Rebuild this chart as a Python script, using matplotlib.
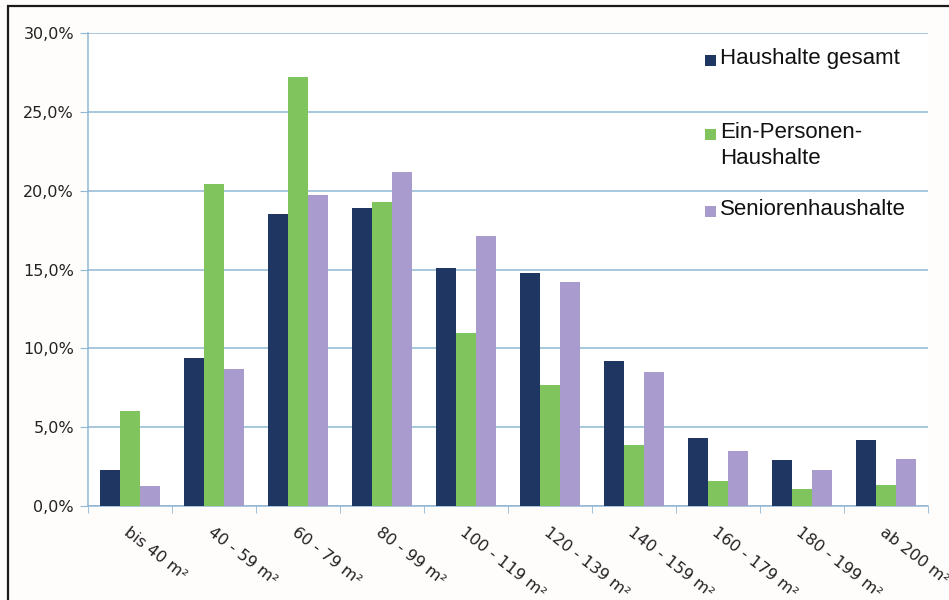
import numpy as np
import matplotlib.pyplot as plt
from matplotlib.patches import Rectangle
from matplotlib.ticker import FuncFormatter, FixedLocator

categories = ['bis 40 m²', '40 - 59 m²', '60 - 79 m²', '80 - 99 m²', '100 - 119 m²',
              '120 - 139 m²', '140 - 159 m²', '160 - 179 m²', '180 - 199 m²', 'ab 200 m²']
gesamt = [2.3, 9.4, 18.5, 18.9, 15.1, 14.8, 9.2, 4.3, 2.9, 4.2]
ein_personen = [6.0, 20.4, 27.2, 19.3, 11.0, 7.7, 3.9, 1.6, 1.1, 1.35]
senioren = [1.3, 8.7, 19.7, 21.2, 17.1, 14.2, 8.5, 3.5, 2.3, 3.0]

series = [
    ('Haushalte gesamt', gesamt, '#1f3663'),
    ('Ein-Personen-\nHaushalte', ein_personen, '#80c45e'),
    ('Seniorenhaushalte', senioren, '#a99bce'),
]

grid_col = '#8fb6d3'
W, H = 949, 600

fig = plt.figure(figsize=(W / 100, H / 100), dpi=100)
fig.patch.set_facecolor('#fffdfc')
# frame round the chart area
fig.patches.append(Rectangle((8 / W, -0.02), 1.0, 1 - 6 / H + 0.02,
                             transform=fig.transFigure, fill=False,
                             edgecolor='#1a1a1a', linewidth=1.6))

ax = fig.add_axes([88 / W, 1 - 506 / H, (928 - 88) / W, (506 - 33) / H])
ax.set_facecolor('white')

x = np.arange(len(categories))
w = 0.24
for i, (name, vals, col) in enumerate(series):
    ax.bar(x + (i - 1) * w, vals, width=w, color=col, label=name, zorder=3)

ax.set_xlim(-0.5, len(categories) - 0.5)
ax.set_ylim(0, 30)
ax.set_yticks(np.arange(0, 31, 5))
ax.yaxis.set_major_formatter(FuncFormatter(lambda v, p: f'{v:.1f}%'.replace('.', ',')))
ax.grid(axis='y', color=grid_col, linewidth=1.1, zorder=0)

for s in ['top', 'right']:
    ax.spines[s].set_visible(False)
for s in ['left', 'bottom']:
    ax.spines[s].set_color(grid_col)
    ax.spines[s].set_linewidth(1.1)

ax.tick_params(axis='y', colors=grid_col, length=6, labelcolor='#222222', labelsize=11.5, pad=4)
ax.xaxis.set_major_locator(FixedLocator(x))
ax.xaxis.set_minor_locator(FixedLocator(np.arange(-0.5, len(categories), 1)))
ax.tick_params(axis='x', which='major', length=0, pad=13)
ax.tick_params(axis='x', which='minor', colors=grid_col, length=5)
ax.set_xticklabels(categories, rotation=-38, ha='left', va='top',
                   rotation_mode='anchor', fontsize=11.5, color='#222222')

# legend: square handle beside the first line of each label
legend_rows = [61, 135, 212]  # pixel y of each entry's first line
for (name, vals, col), py in zip(series, legend_rows):
    fig.patches.append(Rectangle((705 / W, 1 - (py + 5) / H), 11 / W, 11 / H,
                                 transform=fig.transFigure, facecolor=col,
                                 edgecolor='none'))
    fig.text(720 / W, 1 - (py - 13) / H, name, ha='left', va='top',
             family='Liberation Sans', fontsize=16, color='#111111',
             linespacing=1.32)

fig.savefig('out.png', dpi=100, facecolor=fig.get_facecolor())
